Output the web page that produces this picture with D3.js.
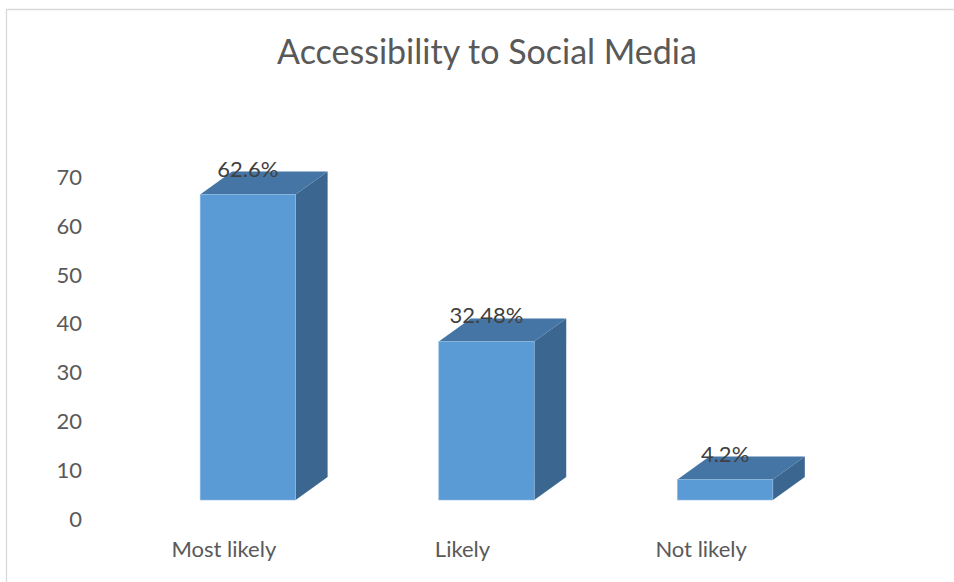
<!DOCTYPE html>
<html>
<head>
<meta charset="utf-8">
<script src="https://cdn.jsdelivr.net/npm/d3@7"></script>
<style>
html,body{margin:0;padding:0;background:#fff;}
svg{display:block;}
text{font-family:Lato,"Open Sans",sans-serif;}
</style>
</head>
<body>
<svg id="chart" width="954" height="582"></svg>
<script>
const categories = ["Most likely", "Likely", "Not likely"];
const values = [62.6, 32.48, 4.2];
const valueLabels = ["62.6%", "32.48%", "4.2%"];
const yTicks = [0, 10, 20, 30, 40, 50, 60, 70];
const title = "Accessibility to Social Media";

const svg = d3.select("#chart");
const W = 954, H = 582;
const depthX = 32, depthY = -23;

// frame
svg.append("path")
  .attr("d", `M6.5,${H+5} L6.5,9.5 L${W+5},9.5`)
  .attr("fill", "none").attr("stroke", "#d9d9d9").attr("stroke-width", 1.3);

svg.append("text")
  .attr("x", 487).attr("y", 64)
  .attr("text-anchor", "middle")
  .attr("font-size", 34)
  .attr("fill", "#595959")
  .text(title);

const x = d3.scaleBand().domain(categories).range([57, 916]).paddingInner(0.6).paddingOuter(0.6);
const y = d3.scaleLinear().domain([0, 70]).range([500, 500 - 70 * 4.88]);

// value axis labels (offset like Excel 3D projection)
const axisG = svg.append("g").attr("transform", "translate(82,19)");
const axis = d3.axisLeft(y).tickValues(yTicks).tickSize(0).tickPadding(0);
axisG.call(axis);
axisG.select(".domain").remove();
axisG.selectAll("text")
  .attr("font-size", 22)
  .attr("fill", "#595959")
  .attr("font-family", "Lato, 'Open Sans', sans-serif");

const data = categories.map((c, i) => ({c, v: values[i], label: valueLabels[i]}));

const bars = svg.append("g").selectAll("g").data(data).join("g");

// side face
bars.append("path")
  .attr("d", d => {
    const x1 = x(d.c) + x.bandwidth(), yt = y(d.v), yb = y(0);
    return `M${x1},${yt} L${x1+depthX},${yt+depthY} L${x1+depthX},${yb+depthY} L${x1},${yb} Z`;
  })
  .attr("fill", "#3b6690");

// top face
bars.append("path")
  .attr("d", d => {
    const x0 = x(d.c), x1 = x0 + x.bandwidth(), yt = y(d.v);
    return `M${x0},${yt} L${x0+depthX},${yt+depthY} L${x1+depthX},${yt+depthY} L${x1},${yt} Z`;
  })
  .attr("fill", "#4475a4");

// front face
bars.append("rect")
  .attr("x", d => x(d.c))
  .attr("y", d => y(d.v))
  .attr("width", x.bandwidth())
  .attr("height", d => y(0) - y(d.v))
  .attr("fill", "#5b9bd5")
  .attr("stroke", "#8fbbe3").attr("stroke-width", 0.6);

// value labels
bars.append("text")
  .attr("x", d => x(d.c) + x.bandwidth() / 2)
  .attr("y", d => y(d.v) - 18)
  .attr("text-anchor", "middle")
  .attr("font-size", 22)
  .attr("fill", "#404040")
  .text(d => d.label);

// category labels
svg.append("g").selectAll("text").data(categories).join("text")
  .attr("x", d => x(d) + x.bandwidth() / 2 - 24)
  .attr("y", 557)
  .attr("text-anchor", "middle")
  .attr("font-size", 22)
  .attr("fill", "#595959")
  .text(d => d);
</script>
</body>
</html>
